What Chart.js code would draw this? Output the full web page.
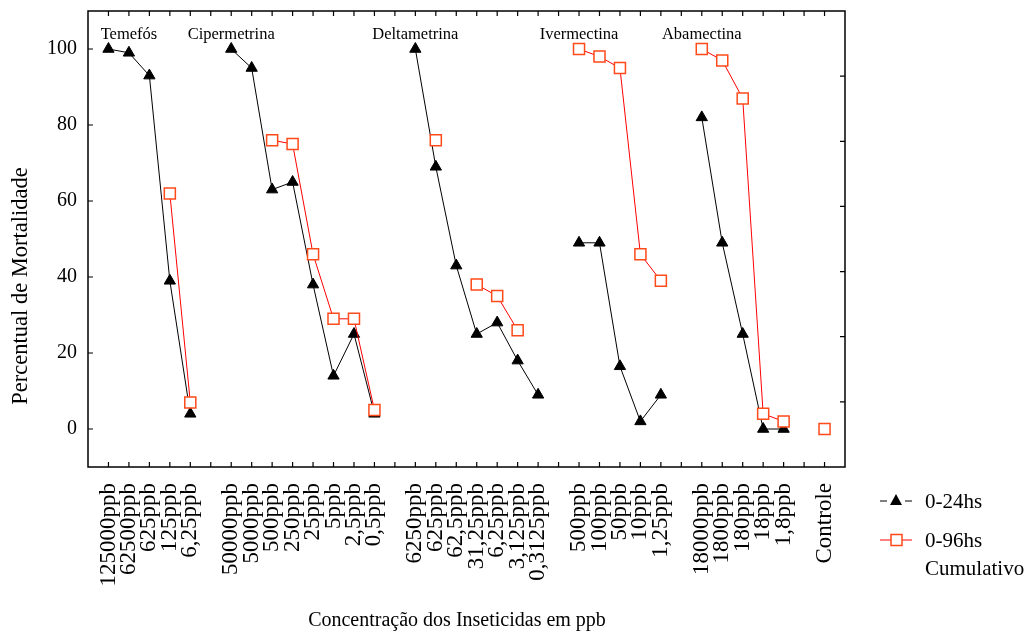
<!DOCTYPE html>
<html>
<head>
<meta charset="utf-8">
<script src="https://cdn.jsdelivr.net/npm/chart.js@4.4.1/dist/chart.umd.min.js"></script>
<style>
html, body { margin: 0; padding: 0; background: #fff; }
#wrap { position: relative; width: 1024px; height: 633px; }
</style>
</head>
<body>
<div id="wrap"><canvas id="chartCanvas" width="1024" height="633"></canvas></div>
<script>
// x slots, '' = gap between insecticide groups
const categories = [
    '125000ppb', '62500ppb', '625ppb', '125ppb', '6,25ppb', '',
    '50000ppb', '5000ppb', '500ppb', '250ppb', '25ppb', '5ppb', '2,5ppb', '0,5ppb', '',
    '6250ppb', '625ppb', '62,5ppb', '31,25ppb', '6,25ppb', '3,125ppb', '0,3125ppb', '',
    '500ppb', '100ppb', '50ppb', '10ppb', '1,25ppb', '',
    '18000ppb', '1800ppb', '180ppb', '18ppb', '1,8ppb', '',
    'Controle'
];

const mortality24h = [
    100, 99, 93, 39, 4, null,
    100, 95, 63, 65, 38, 14, 25, 4, null,
    100, 69, 43, 25, 28, 18, 9, null,
    49, 49, 16.5, 2, 9, null,
    82, 49, 25, 0, 0, null,
    null
];

const mortality96h = [
    null, null, null, 62, 7, null,
    null, null, 76, 75, 46, 29, 29, 5, null,
    null, 76, null, 38, 35, 26, null, null,
    100, 98, 95, 46, 39, null,
    100, 97, 87, 4, 2, null,
    0
];

const groupNames = ['Temefós', 'Cipermetrina', 'Deltametrina', 'Ivermectina', 'Abamectina'];
const groupNameSlot = [1, 6, 15, 23, 29];

const yTicks = [0, 20, 40, 60, 80, 100];
const rightTicks = [1, 2, 3, 4, 5, 6];

const serif = "'Liberation Serif', 'Times New Roman', serif";
const redLine = '#ff0000';
const redMarker = '#ff4a1a';

function toPoints(values) {
    return values.map((v, i) => ({ x: i, y: v }));
}

const framePlugin = {
    id: 'frame',
    afterDraw(chart) {
        const ctx = chart.ctx;
        const { left, right, top, bottom } = chart.chartArea;
        const xs = chart.scales.x;
        const ys = chart.scales.y;
        const y2 = chart.scales.y2;
        ctx.save();
        ctx.strokeStyle = '#000';
        ctx.lineWidth = 1.5;
        ctx.strokeRect(left, top, right - left, bottom - top);

        // inward tick marks
        ctx.lineWidth = 1.2;
        ctx.beginPath();
        categories.forEach((c, i) => {
            const px = xs.getPixelForValue(i);
            ctx.moveTo(px, bottom); ctx.lineTo(px, bottom - 5);
            ctx.moveTo(px, top); ctx.lineTo(px, top + 5);
        });
        yTicks.forEach((v) => {
            const py = ys.getPixelForValue(v);
            ctx.moveTo(left, py); ctx.lineTo(left + 5, py);
        });
        rightTicks.forEach((v) => {
            const py = y2.getPixelForValue(v);
            ctx.moveTo(right, py); ctx.lineTo(right - 5, py);
        });
        ctx.stroke();

        // group names inside plot
        ctx.fillStyle = '#000';
        ctx.font = `16.5px ${serif}`;
        ctx.textAlign = 'center';
        ctx.textBaseline = 'alphabetic';
        groupNames.forEach((name, i) => {
            ctx.fillText(name, xs.getPixelForValue(groupNameSlot[i]), ys.getPixelForValue(102.7));
        });

        // axis titles
        ctx.font = `20px ${serif}`;
        ctx.fillText('Concentração dos Inseticidas em ppb', 457, 626);
        ctx.save();
        ctx.translate(21, 286);
        ctx.rotate(-Math.PI / 2);
        ctx.font = `22.5px ${serif}`;
        ctx.textBaseline = 'middle';
        ctx.fillText('Percentual de Mortalidade', 0, 0);
        ctx.restore();

        // legend
        ctx.textAlign = 'left';
        ctx.textBaseline = 'middle';
        ctx.font = `21px ${serif}`;
        ctx.lineWidth = 1;
        ctx.strokeStyle = '#000';
        ctx.beginPath();
        ctx.moveTo(880, 501); ctx.lineTo(887, 501);
        ctx.moveTo(905, 501); ctx.lineTo(912, 501);
        ctx.stroke();
        ctx.beginPath();
        ctx.moveTo(896, 494); ctx.lineTo(902, 505); ctx.lineTo(890, 505); ctx.closePath();
        ctx.fill();
        ctx.fillText('0-24hs', 925, 502);

        ctx.strokeStyle = redLine;
        ctx.beginPath();
        ctx.moveTo(880, 540); ctx.lineTo(912, 540);
        ctx.stroke();
        ctx.fillStyle = '#fff';
        ctx.fillRect(891, 534.5, 11, 11);
        ctx.strokeStyle = redMarker;
        ctx.lineWidth = 1.5;
        ctx.strokeRect(891, 534.5, 11, 11);
        ctx.fillStyle = '#000';
        ctx.fillText('0-96hs', 925, 541);
        ctx.fillText('Cumulativo', 925, 569);
        ctx.restore();
    }
};

new Chart(document.getElementById('chartCanvas'), {
    type: 'line',
    data: {
        datasets: [
            {
                label: '0-24hs',
                data: toPoints(mortality24h),
                borderColor: '#000',
                borderWidth: 1,
                backgroundColor: '#000',
                pointStyle: 'triangle',
                pointRadius: 6.5,
                pointBackgroundColor: '#000',
                pointBorderColor: '#000',
                spanGaps: false,
                order: 2
            },
            {
                label: '0-96hs Cumulativo',
                data: toPoints(mortality96h),
                borderColor: redLine,
                borderWidth: 1,
                pointStyle: 'rect',
                pointRadius: 7.8,
                pointBackgroundColor: '#fff',
                pointBorderColor: redMarker,
                pointBorderWidth: 1.5,
                spanGaps: false,
                order: 1
            }
        ]
    },
    options: {
        responsive: false,
        animation: false,
        devicePixelRatio: 1,
        layout: { padding: { left: 0, right: 179, top: 11, bottom: 0 } },
        plugins: {
            legend: { display: false },
            tooltip: { enabled: false }
        },
        scales: {
            x: {
                type: 'linear',
                min: -1,
                max: 36,
                afterBuildTicks: (scale) => {
                    scale.ticks = categories.map((c, i) => ({ value: i }));
                },
                afterFit: (scale) => {
                    scale.height = 166;
                    scale.paddingLeft = 0;
                    scale.paddingRight = 0;
                },
                grid: { display: false },
                border: { display: false },
                ticks: {
                    autoSkip: false,
                    maxRotation: 90,
                    minRotation: 90,
                    padding: 8,
                    color: '#000',
                    font: { family: serif, size: 23 },
                    callback: (v) => categories[v] || ''
                }
            },
            y: {
                min: -10,
                max: 110,
                afterBuildTicks: (scale) => {
                    scale.ticks = yTicks.map((v) => ({ value: v }));
                },
                afterFit: (scale) => {
                    scale.width = 88;
                    scale.paddingTop = 0;
                    scale.paddingBottom = 0;
                },
                grid: { display: false },
                border: { display: false },
                ticks: {
                    padding: 3,
                    color: '#000',
                    font: { family: serif, size: 20 }
                }
            },
            y2: {
                position: 'right',
                min: 0,
                max: 7,
                afterFit: (scale) => {
                    scale.width = 0;
                    scale.paddingTop = 0;
                    scale.paddingBottom = 0;
                },
                grid: { display: false },
                border: { display: false },
                ticks: { display: false }
            }
        }
    },
    plugins: [framePlugin]
});
</script>
</body>
</html>
